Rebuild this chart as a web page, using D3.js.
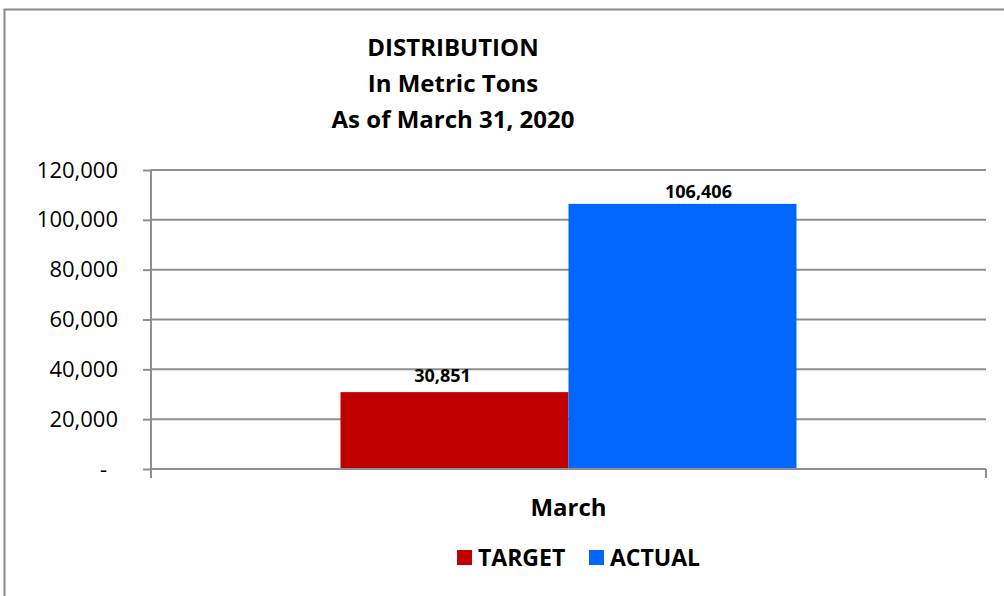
<!DOCTYPE html>
<html>
<head>
<meta charset="utf-8">
<script src="https://cdn.jsdelivr.net/npm/d3@7"></script>
<style>
  body { margin: 0; background: #fff; }
  svg text { font-family: "Open Sans", "Noto Sans", sans-serif; fill: #000; }
  .grid line { stroke: #8f8f8f; stroke-width: 2px; }
  .axis path, .axis line { stroke: #8f8f8f; stroke-width: 2px; }
</style>
</head>
<body>
<div id="chart"></div>
<script>
// data
var categories = ["March"];
var seriesNames = ["TARGET", "ACTUAL"];
var seriesColors = ["#c00000", "#0066ff"];
var targetValues = [30851];
var actualValues = [106406];
var yTicks = [0, 20000, 40000, 60000, 80000, 100000, 120000];
var titleLines = ["DISTRIBUTION", "In Metric Tons", "As of March 31, 2020"];

var W = 1004, H = 596;
var margin = {top: 170, right: 18, bottom: 127, left: 151},
    width = W - margin.left - margin.right,
    height = H - margin.top - margin.bottom;

var svg = d3.select("#chart")
  .append("svg")
    .attr("width", W)
    .attr("height", H);

// outer chart border (runs off the right / bottom edge)
svg.append("rect")
  .attr("x", 4.5).attr("y", 9.5)
  .attr("width", 1020).attr("height", 620)
  .attr("fill", "#fff")
  .attr("stroke", "#8a8a8a")
  .attr("stroke-width", 2);

// title
svg.append("g").selectAll("text")
  .data(titleLines)
  .enter()
  .append("text")
    .attr("x", 453)
    .attr("y", (d, i) => 56 + i * 36)
    .attr("text-anchor", "middle")
    .style("font-size", "24px")
    .style("font-weight", "bold")
    .text(d => d);

var g = svg.append("g")
  .attr("transform", "translate(" + margin.left + "," + margin.top + ")");

var y = d3.scaleLinear()
  .domain([0, 120000])
  .range([height, 0]);

var x0 = d3.scaleBand()
  .domain(categories)
  .range([0, width])
  .paddingInner(0)
  .paddingOuter(0.4156);

var x1 = d3.scaleBand()
  .domain(seriesNames)
  .range([0, x0.bandwidth()]);

// gridlines
g.append("g")
  .attr("class", "grid")
  .selectAll("line")
  .data(yTicks.filter(d => d > 0))
  .enter()
  .append("line")
    .attr("x1", 0)
    .attr("x2", width)
    .attr("y1", d => y(d))
    .attr("y2", d => y(d));

// y axis
var yAxis = g.append("g")
  .attr("class", "axis")
  .call(d3.axisLeft(y)
    .tickValues(yTicks)
    .tickSize(8)
    .tickPadding(25)
    .tickFormat(d => d === 0 ? "-" : d3.format(",")(d)));
yAxis.select(".domain").attr("d", "M0,0V" + (height + 9));
yAxis.selectAll("text")
  .style("font-size", "22px")
  .attr("dx", d => d === 0 ? "-11px" : 0);

// bars
var rows = categories.map((c, i) => ({cat: c, values: [targetValues[i], actualValues[i]]}));

var groups = g.selectAll(".cat")
  .data(rows)
  .enter()
  .append("g")
    .attr("transform", d => "translate(" + x0(d.cat) + ",0)");

groups.selectAll("rect")
  .data(d => d.values.map((v, j) => ({name: seriesNames[j], value: v, color: seriesColors[j]})))
  .enter()
  .append("rect")
    .attr("x", d => x1(d.name))
    .attr("y", d => y(d.value))
    .attr("width", x1.bandwidth())
    .attr("height", d => height - y(d.value))
    .attr("fill", d => d.color);

// value labels (slightly shifted like the original)
var labelShift = {TARGET: -12, ACTUAL: 16};
var labelGap = {TARGET: 10, ACTUAL: 6};
groups.selectAll(".lbl")
  .data(d => d.values.map((v, j) => ({name: seriesNames[j], value: v})))
  .enter()
  .append("text")
    .attr("x", d => x1(d.name) + x1.bandwidth() / 2 + labelShift[d.name])
    .attr("y", d => y(d.value) - labelGap[d.name])
    .attr("text-anchor", "middle")
    .style("font-size", "18px")
    .style("font-weight", "bold")
    .text(d => d3.format(",")(d.value));

// x axis
var xAxis = g.append("g")
  .attr("class", "axis")
  .attr("transform", "translate(0," + height + ")");
xAxis.append("line")
  .attr("x1", 0).attr("x2", width)
  .attr("y1", 0).attr("y2", 0);
xAxis.append("line")
  .attr("x1", width).attr("x2", width)
  .attr("y1", 0).attr("y2", 9);
xAxis.selectAll(".cat-label")
  .data(categories)
  .enter()
  .append("text")
    .attr("x", d => x0(d) + x0.bandwidth() / 2)
    .attr("y", 47)
    .attr("text-anchor", "middle")
    .style("font-size", "24px")
    .style("font-weight", "bold")
    .text(d => d);

// legend
var legendX = [457, 589];
var legend = svg.append("g").selectAll("g")
  .data(seriesNames)
  .enter()
  .append("g")
    .attr("transform", (d, i) => "translate(" + legendX[i] + ",550)");
legend.append("rect")
  .attr("width", 15).attr("height", 15)
  .attr("fill", (d, i) => seriesColors[i]);
legend.append("text")
  .attr("x", 21)
  .attr("y", 16)
  .style("font-size", "23px")
  .style("font-weight", "bold")
  .text(d => d);
</script>
</body>
</html>
